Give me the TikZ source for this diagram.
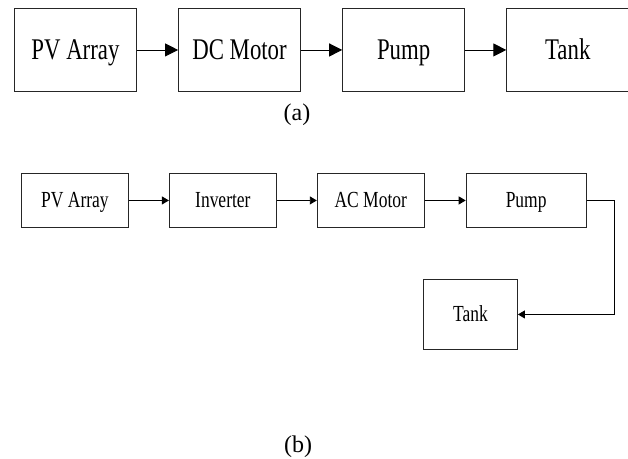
\documentclass[tikz,border=0pt]{standalone}
\usepackage{fontspec}
\setmainfont{Liberation Serif}
\newfontfamily\boxfont[FakeStretch=0.76]{Liberation Serif}
\usepackage{tikz}
\usetikzlibrary{arrows.meta, positioning}

\begin{document}
\begin{tikzpicture}[
    bigblock/.style={draw=black!85, line width=0.9pt, minimum width=122pt, minimum height=83pt, inner sep=0pt, text height=23pt, text depth=4pt, align=center, font=\boxfont\fontsize{30pt}{36pt}\selectfont},
    smallblock/.style={draw=black!85, line width=0.9pt, minimum width=107pt, minimum height=54pt, inner sep=0pt, text height=17pt, text depth=3pt, align=center, font=\boxfont\fontsize{23pt}{28pt}\selectfont},
    bigarrow/.style={-{Triangle[length=13pt, width=13pt]}, line width=0.9pt},
    smallarrow/.style={-{Triangle[length=7pt, width=8pt]}, line width=0.9pt},
    caption/.style={font=\fontsize{24pt}{29pt}\selectfont, inner sep=0pt}
]
    \useasboundingbox (0,0) rectangle (628pt,-458pt);

    % (a) direct drive
    \node[bigblock, anchor=north west] (pva) at (14pt,-8pt) {PV Array};
    \node[bigblock, right=41.2pt of pva] (dcm) {DC Motor};
    \node[bigblock, right=41.2pt of dcm] (pmpa) {Pump};
    \node[bigblock, right=41.2pt of pmpa] (tnka) {Tank};
    \node[caption] (capa) at (297pt,-115pt) {(a)};

    \draw[bigarrow] (pva) -- (dcm);
    \draw[bigarrow] (dcm) -- (pmpa);
    \draw[bigarrow] (pmpa) -- (tnka);

    % (b) with inverter
    \node[smallblock, anchor=north west] (pvb) at (21pt,-173pt) {PV Array};
    \node[smallblock, right=40pt of pvb] (inv) {Inverter};
    \node[smallblock, right=40pt of inv] (acm) {AC Motor};
    \node[smallblock, minimum width=120pt, right=41pt of acm] (pmpb) {Pump};
    \node[smallblock, minimum width=94pt, minimum height=70pt, anchor=north west] (tnkb) at (423pt,-279pt) {Tank};
    \node[caption] (capb) at (298pt,-447pt) {(b)};

    \draw[smallarrow] (pvb) -- (inv);
    \draw[smallarrow] (inv) -- (acm);
    \draw[smallarrow] (acm) -- (pmpb);
    \draw[smallarrow] (pmpb.east) -- ++(28pt,0) |- (tnkb.east);
\end{tikzpicture}
\end{document}
